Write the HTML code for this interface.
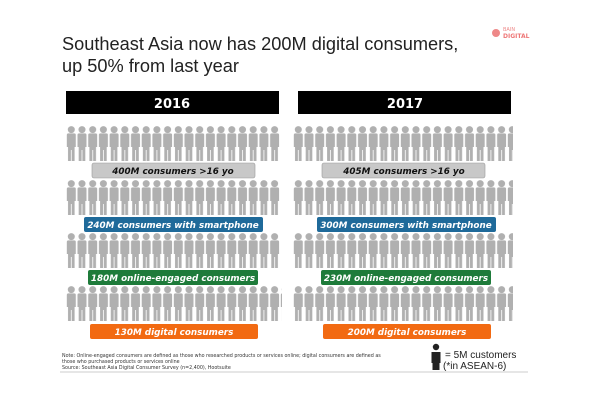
<!DOCTYPE html>
<html><head><meta charset="utf-8"><style>
body{margin:0;background:#fff;width:600px;height:400px;overflow:hidden;font-family:"Liberation Sans",sans-serif}
</style></head><body>
<svg width="600" height="400" xmlns="http://www.w3.org/2000/svg" font-family="DejaVu Sans, Liberation Sans, sans-serif">
<defs>
<pattern id="p" x="0" y="0" width="10.7" height="36" patternUnits="userSpaceOnUse">
<circle cx="5.3" cy="3.6" r="3.5" fill="#b0b0b0"/>
<path d="M0.8 9 Q0.8 7.4 2.4 7.4 H8.2 Q9.8 7.4 9.8 9 V21 H8.6 V35 H5.7 V24 H4.9 V35 H2 V21 H0.8Z" fill="#b0b0b0"/>
</pattern>
</defs>
<text x="62" y="50" font-family="Liberation Sans, sans-serif" font-size="18.2" fill="#222">Southeast Asia now has 200M digital consumers,</text>
<text x="62" y="72" font-family="Liberation Sans, sans-serif" font-size="18.2" fill="#222">up 50% from last year</text>
<circle cx="496" cy="33" r="4" fill="#e88"/>
<text x="503" y="31" font-size="5" fill="#e88">BAIN</text>
<text x="503" y="38" font-size="6" fill="#e77" font-weight="bold">DIGITAL</text>

<rect x="66" y="91" width="213" height="23" fill="#000"/>
<text x="172" y="108" text-anchor="middle" fill="#fff" font-weight="bold" font-size="13">2016</text>
<rect x="298" y="91" width="213" height="23" fill="#000"/>
<text x="405" y="108" text-anchor="middle" fill="#fff" font-weight="bold" font-size="13">2017</text>

<g transform="translate(66,126)"><rect width="214" height="36" fill="url(#p)"/></g>
<g transform="translate(66,180)"><rect width="214" height="36" fill="url(#p)"/></g>
<g transform="translate(66,233)"><rect width="214" height="36" fill="url(#p)"/></g>
<g transform="translate(66,286)"><rect width="216" height="36" fill="url(#p)"/></g>
<g transform="translate(293,126)"><rect width="220" height="36" fill="url(#p)"/></g>
<g transform="translate(293,180)"><rect width="220" height="36" fill="url(#p)"/></g>
<g transform="translate(293,233)"><rect width="220" height="36" fill="url(#p)"/></g>
<g transform="translate(293,286)"><rect width="220" height="36" fill="url(#p)"/></g>

<g font-size="8.8" font-weight="bold" font-style="italic" text-anchor="middle">
<rect x="92" y="163" width="163" height="15" rx="2" fill="#c8c8c8" stroke="#999" stroke-width="0.6"/>
<text x="173" y="174" fill="#111">400M consumers &gt;16 yo</text>
<rect x="322" y="163" width="163" height="15" rx="2" fill="#c8c8c8" stroke="#999" stroke-width="0.6"/>
<text x="404" y="174" fill="#111">405M consumers &gt;16 yo</text>
<rect x="84" y="217" width="179" height="15" rx="2" fill="#1f6a9a"/>
<text x="173" y="228" fill="#fff">240M consumers with smartphone</text>
<rect x="317" y="217" width="179" height="15" rx="2" fill="#1f6a9a"/>
<text x="406" y="228" fill="#fff">300M consumers with smartphone</text>
<rect x="88" y="270" width="170" height="15" rx="2" fill="#1e7b3a"/>
<text x="173" y="281" fill="#fff">180M online-engaged consumers</text>
<rect x="321" y="270" width="170" height="15" rx="2" fill="#1e7b3a"/>
<text x="406" y="281" fill="#fff">230M online-engaged consumers</text>
<rect x="90" y="324" width="168" height="15" rx="2" fill="#f26a12"/>
<text x="174" y="335" fill="#fff">130M digital consumers</text>
<rect x="323" y="324" width="168" height="15" rx="2" fill="#f26a12"/>
<text x="407" y="335" fill="#fff">200M digital consumers</text>
</g>

<g font-size="4.8" fill="#333">
<text x="62" y="357">Note: Online-engaged consumers are defined as those who researched products or services online; digital consumers are defined as</text>
<text x="62" y="363">those who purchased products or services online</text>
<text x="62" y="369">Source: Southeast Asia Digital Consumer Survey (n=2,400), Hootsuite</text>
</g>
<line x1="60" y1="372" x2="528" y2="372" stroke="#ccc" stroke-width="1"/>
<circle cx="436" cy="347" r="3.2" fill="#222"/>
<path d="M431.5 352 H440.5 V363 H439.5 V370 H432.5 V363 H431.5Z" fill="#222"/>
<text x="445" y="358" font-size="10" fill="#222" font-family="Liberation Sans, sans-serif">= 5M customers</text>
<text x="443" y="369" font-size="10" fill="#222" font-family="Liberation Sans, sans-serif">(*in ASEAN-6)</text>
</svg>
</body></html>
